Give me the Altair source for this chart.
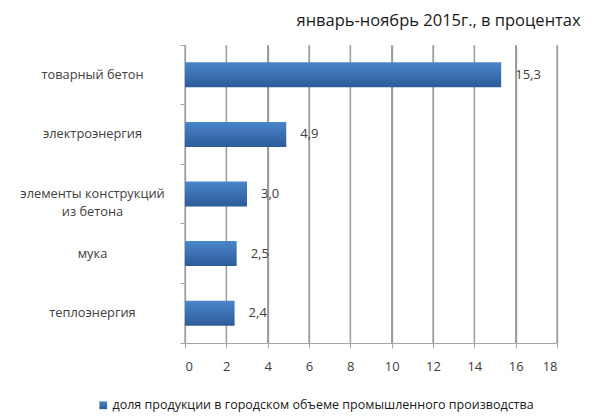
import altair as alt
import pandas as pd

categories = ["товарный бетон", "электроэнергия", "элементы конструкций из бетона", "мука", "теплоэнергия"]
values = [15.3, 4.9, 3.0, 2.5, 2.4]
labels = ["15,3", "4,9", "3,0", "2,5", "2,4"]
series_name = "доля продукции в городском объеме промышленного производства"
title_text = "январь-ноябрь 2015г., в процентах"
x_ticks = list(range(0, 19, 2))

df = pd.DataFrame({"cat": categories, "val": values, "lbl": labels, "series": series_name})
grid_df = pd.DataFrame({"val": x_ticks})

FONT = "Open Sans"
TXT = "#404040"

y_enc = alt.Y(
    "cat:N",
    sort=categories,
    title=None,
    scale=alt.Scale(paddingInner=0, paddingOuter=0),
    axis=alt.Axis(
        bandPosition=1,
        tickExtra=True,
        tickSize=5,
        tickColor="#a6a6a6",
        domainColor="#a6a6a6",
        labelAlign="center",
        labelPadding=88,
        labelFont=FONT,
        labelFontSize=12.8,
        labelColor=TXT,
        labelLimit=300,
        labelLineHeight=18,
        labelExpr="datum.label == 'элементы конструкций из бетона' ? ['элементы конструкций', 'из бетона'] : datum.label",
        grid=False,
    ),
)

x_scale = alt.Scale(domain=[0, 18], nice=False)
x_enc = alt.X(
    "val:Q",
    title=None,
    scale=x_scale,
    axis=alt.Axis(
        values=x_ticks,
        grid=True,
        gridColor="#999999",
        gridWidth=1.3,
        gridOpacity=1,
        tickColor="#a6a6a6",
        domainColor="#a6a6a6",
        tickSize=5,
        labelFont=FONT,
        labelFontSize=13,
        labelColor=TXT,
        labelPadding=12,
    ),
)

grid = alt.Chart(grid_df).mark_tick(
    orient="vertical", thickness=1.3, size=298, color="#a0a0a0", opacity=1
).encode(x=x_enc, y=alt.value(149))

bars = alt.Chart(df).mark_bar(
    size=25,
    fill=alt.Gradient(
        gradient="linear",
        stops=[alt.GradientStop(color="#4a86cb", offset=0), alt.GradientStop(color="#2c5b98", offset=1)],
        x1=0, x2=0, y1=0, y2=1,
    ),
).encode(
    x=x_enc,
    y=y_enc,
    stroke=alt.Stroke(
        "series:N",
        title=None,
        scale=alt.Scale(range=["#3f76bb"]),
        legend=alt.Legend(
            orient="none",
            legendX=-88,
            legendY=354,
            direction="horizontal",
            symbolType="square",
            symbolFillColor="#3f76bb",
            symbolStrokeWidth=0,
            symbolSize=60,
            labelFont=FONT,
            labelFontSize=12.5,
            labelColor="#1a1a1a",
            labelLimit=600,
            labelOffset=3,
        ),
    ),
    strokeWidth=alt.value(0),
)

text = alt.Chart(df).mark_text(
    align="left", dx=14, font=FONT, fontSize=13, color=TXT
).encode(x=x_enc, y=y_enc, text="lbl:N")

chart = (grid + bars + text).properties(
    width=372,
    height=298,
    autosize=alt.AutoSizeParams(type="none"),
    padding={"left": 177, "top": 37, "right": 28, "bottom": 76},
    title=alt.TitleParams(
        title_text, anchor="end", font=FONT, fontSize=16.5, fontWeight="normal", color="#1a1a1a",
        offset=10, dx=23
    ),
).configure_view(stroke=None)

chart.save("out.html", embed_options={"renderer": "svg", "actions": False})
